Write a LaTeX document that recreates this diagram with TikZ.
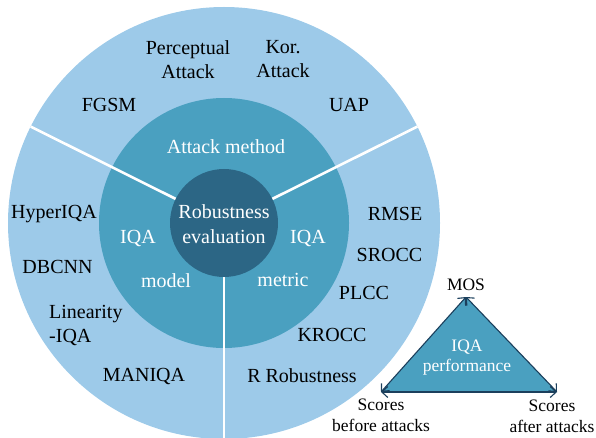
\documentclass[tikz,border=0pt]{standalone}
\usepackage{fontspec}
\setmainfont{LiberationSerif}[Extension=.ttf, UprightFont=*-Regular, BoldFont=*-Bold]
\usetikzlibrary{arrows.meta}
\definecolor{outerblue}{HTML}{9DCAE9}
\definecolor{midblue}{HTML}{4AA0C0}
\definecolor{darkblue}{HTML}{2C6685}
\definecolor{edgenavy}{HTML}{1B3F5C}
\tikzset{
  lbl/.style={inner sep=0pt, align=center, font=\fontsize{20}{24}\selectfont, text=black},
  wlbl/.style={inner sep=0pt, align=center, font=\fontsize{20}{25}\selectfont, text=white},
  tlbl/.style={inner sep=0pt, align=center, font=\fontsize{17.5}{21}\selectfont, text=black},
  twlbl/.style={inner sep=0pt, align=center, font=\fontsize{17.5}{19.5}\selectfont, text=white},
  divider/.style={white, line width=2.6pt},
  triedge/.style={edgenavy, line width=1.1pt, {Straight Barb[length=6pt,width=11pt]}-{Straight Barb[length=6pt,width=11pt]}}
}
\begin{document}
\begin{tikzpicture}[x=1pt,y=-1pt]
\useasboundingbox (0,0) rectangle (596,438);
\begin{scope}
\clip (0,0) rectangle (596,438);
\coordinate (c) at (224,223);
\fill[outerblue] (c) circle[radius=216];
\fill[midblue] (c) circle[radius=125];
\coordinate (ul) at (30.7,126.6);
\coordinate (ur) at (417.3,126.6);
\coordinate (dn) at (224,445);
\draw[divider] (c) -- (ul);
\draw[divider] (c) -- (ur);
\draw[divider] (c) -- (dn);
\fill[darkblue] (c) circle[radius=54];
\end{scope}

% centre
\node[wlbl] (rob) at (224,224.5) {Robustness\\evaluation};
% middle ring
\node[wlbl] (atk) at (226,147) {Attack method};
\node[wlbl] (iqal) at (138,238) {IQA};
\node[wlbl] (model) at (166,281) {model};
\node[wlbl] (iqar) at (308,238) {IQA};
\node[wlbl] (metric) at (283,280) {metric};
% outer ring: attacks
\node[lbl] (perc) at (188,59.5) {Perceptual\\Attack};
\node[lbl] (kor) at (283,59.5) {Kor.\\Attack};
\node[lbl] (fgsm) at (109,105) {FGSM};
\node[lbl] (uap) at (349,105) {UAP};
% outer ring: models
\node[lbl] (hyper) at (54,214) {HyperIQA};
\node[lbl] (dbcnn) at (57.5,267) {DBCNN};
\node[lbl, align=left, anchor=west] (lin) at (49,325.5) {Linearity\\-IQA};
\node[lbl] (maniqa) at (144,376) {MANIQA};
% outer ring: metrics
\node[lbl] (rmse) at (395,214) {RMSE};
\node[lbl] (srocc) at (389.5,255) {SROCC};
\node[lbl] (plcc) at (364,293) {PLCC};
\node[lbl] (krocc) at (332,335) {KROCC};
\node[lbl] (rrob) at (302,376) {R Robustness};

% triangle
\coordinate (ta) at (466,297);
\coordinate (tl) at (381,392);
\coordinate (tr) at (557,392);
\fill[midblue] (ta) -- (tl) -- (tr) -- cycle;
\draw[triedge] (ta) -- (tl);
\draw[triedge] (tl) -- (tr);
\draw[triedge] (tr) -- (ta);
\node[twlbl] (perf) at (467,357.5) {IQA\\performance};
\node[tlbl] (mos) at (466,285) {MOS};
\node[tlbl] (before) at (381,415.5) {Scores\\before attacks};
\node[tlbl] (after) at (552,416) {Scores\\after attacks};
\end{tikzpicture}
\end{document}
